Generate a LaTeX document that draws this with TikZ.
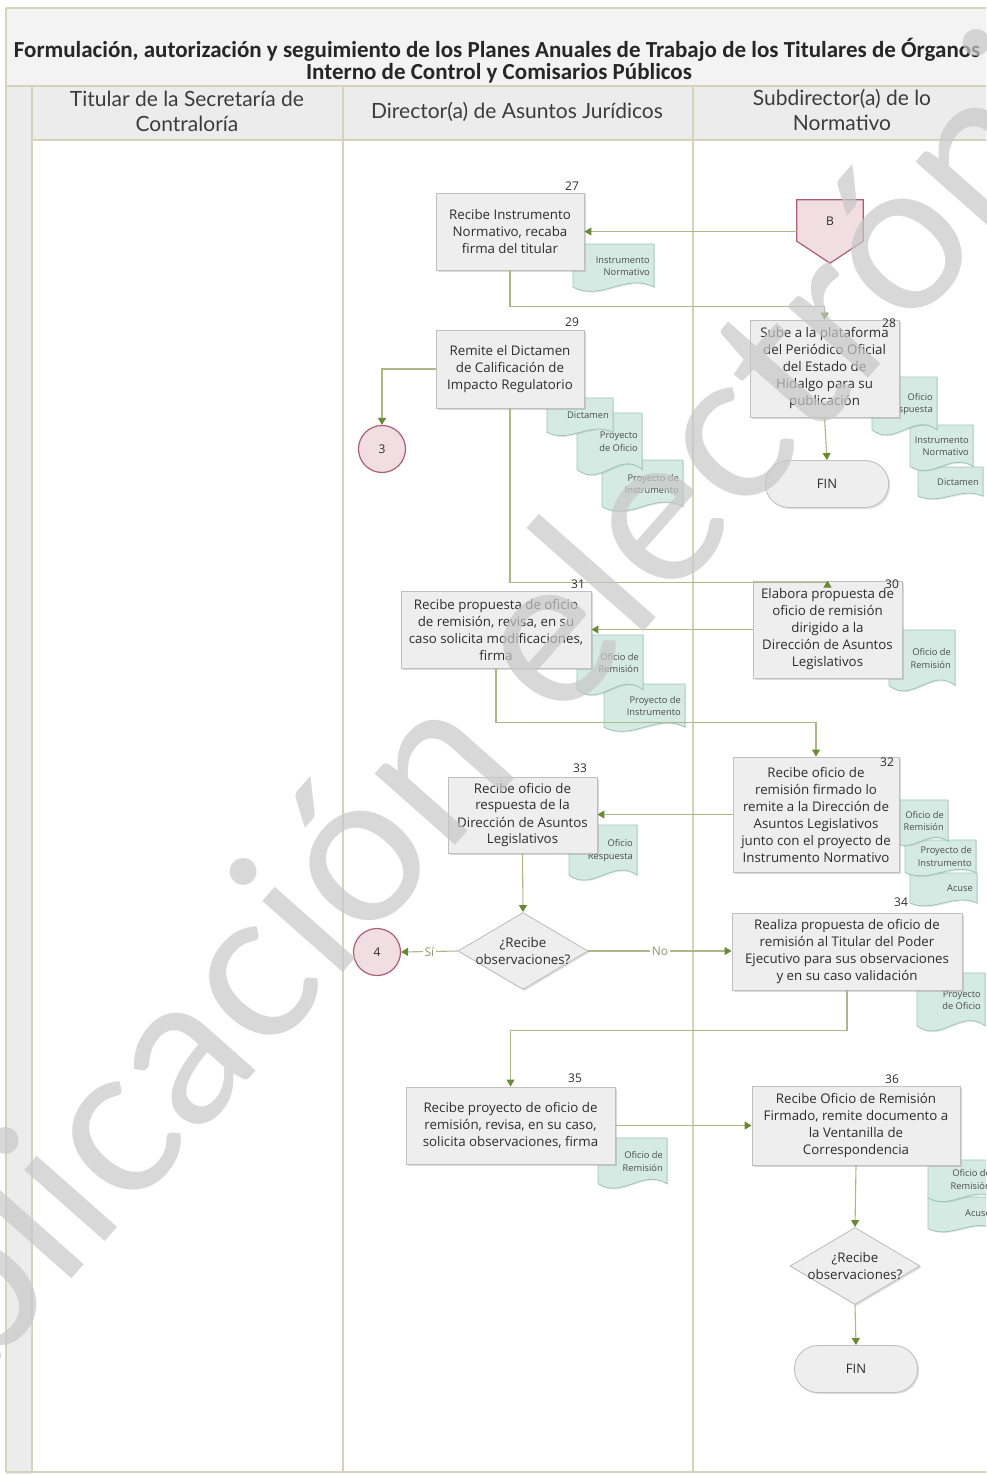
\documentclass[tikz,border=0pt]{standalone}
\usepackage{fontspec}
\setmainfont{Open Sans}
\newfontfamily\ttlfont{Carlito}
\newfontfamily\latofont{Lato}
\usetikzlibrary{arrows.meta,shapes.geometric,shapes.misc,shadows,calc}
\definecolor{lanecol}{RGB}{214,211,186}
\definecolor{hdrfill}{RGB}{236,236,236}
\definecolor{titlefill}{RGB}{243,243,243}
\definecolor{boxfill}{RGB}{238,238,238}
\definecolor{boxdraw}{RGB}{192,192,192}
\definecolor{linec}{RGB}{172,184,138}
\definecolor{tipc}{RGB}{104,138,52}
\definecolor{docfill}{RGB}{214,234,228}
\definecolor{docdraw}{RGB}{155,198,186}
\definecolor{pinkfill}{RGB}{240,222,226}
\definecolor{pinkdraw}{RGB}{170,96,112}
\definecolor{txt}{RGB}{45,45,45}
\definecolor{hdrc}{RGB}{60,60,60}
\definecolor{lblc}{RGB}{140,150,110}
\newcommand{\docshp}[7][0.45]{%
  \path[docsty] (#3,#4) -- (#5,#4) -- (#5,{#6-0.12*(#6-#4)})
    .. controls ({#3+0.65*(#5-#3)},{#6-0.42*(#6-#4)}) and ({#3+0.35*(#5-#3)},{#6+0.18*(#6-#4)}) .. (#3,{#6-0.12*(#6-#4)}) -- cycle;
  \node[doctxt] (#2) at ({#5-4},{#4+#1*(#6-#4)}) {#7};
}
\tikzset{
  lane/.style={draw=lanecol, line width=1.4pt},
  proc/.style={draw=boxdraw, fill=boxfill, line width=0.9pt, align=center, text=txt,
    font=\fontsize{13.3}{17}\selectfont, inner sep=1pt,
    drop shadow={shadow xshift=1.5pt, shadow yshift=-1.5pt, opacity=0.3}},
  num/.style={font=\fontsize{12}{13}\selectfont, text=txt, inner sep=0pt},
  conn/.style={draw=linec, line width=1.1pt, -{Triangle[width=8pt,length=7pt,color=tipc]}},
  docsty/.style={draw=docdraw, fill=docfill, line width=0.8pt,
    drop shadow={shadow xshift=1.2pt, shadow yshift=-1.2pt, opacity=0.2}},
  doctxt/.style={font=\fontsize{9.3}{12.5}\selectfont, text=txt!85, align=right, anchor=east, inner sep=0pt},
  circ/.style={circle, draw=pinkdraw, fill=pinkfill, line width=1.2pt, minimum size=47pt,
    font=\fontsize{12}{13}\selectfont, text=txt, inner sep=0pt},
  dec/.style={diamond, draw=boxdraw, fill=boxfill, line width=0.9pt, minimum width=130pt,
    minimum height=77pt, inner sep=0pt,
    drop shadow={shadow xshift=1.5pt, shadow yshift=-1.5pt, opacity=0.25}},
  dectxt/.style={font=\fontsize{13.3}{17}\selectfont, text=txt, align=center, inner sep=0pt},
  term/.style={rounded rectangle, draw=boxdraw, fill=boxfill, line width=0.9pt,
    minimum width=130pt, minimum height=47pt, font=\fontsize{13}{14}\selectfont, text=txt,
    drop shadow={shadow xshift=1.5pt, shadow yshift=-1.5pt, opacity=0.25}},
  offp/.style={draw=pinkdraw, fill=pinkfill, line width=1.2pt},
  lbl/.style={fill=white, font=\fontsize{12}{13}\selectfont, text=lblc, inner sep=1.5pt},
  hdr/.style={font=\latofont\fontsize{21}{25}\selectfont, text=hdrc, align=center},
  ttl/.style={font=\ttlfont\bfseries\fontsize{23}{26}\selectfont, text=black!85}
}
\begin{document}
\begin{tikzpicture}[x=1pt,y=-1pt]
\useasboundingbox (0,0) rectangle (986,1474);
\clip (0,0) rectangle (986,1474);
% ---- frame and lanes
\fill[titlefill] (6,8) rectangle (995,86);
\fill[hdrfill] (6,86) rectangle (995,140);
\fill[hdrfill] (6,86) rectangle (32,1474);
\draw[lane] (6,8) -- (995,8);
\draw[lane] (6,86) -- (995,86);
\draw[lane] (32,140) -- (995,140);
\draw[lane] (6,8) -- (6,1472);
\draw[lane] (32,86) -- (32,1472);
\draw[lane] (343,86) -- (343,1472);
\draw[lane] (693,86) -- (693,1472);
\draw[lane] (6,1472) -- (995,1472);
% ---- title and headers
\node[ttl] (t1) at (497,50) {Formulación, autorización y seguimiento de los Planes Anuales de Trabajo de los Titulares de Órganos};
\node[ttl] (t2) at (499,73) {Interno de Control y Comisarios Públicos};
\node[hdr] (h1) at (187,111) {Titular de la Secretaría de\\Contraloría};
\node[hdr] (h2) at (517,112) {Director(a) de Asuntos Jurídicos};
\node[hdr] (h3) at (842,110) {Subdirector(a) de lo\\Normativo};
% ---- off-page connector frame
\node[inner sep=0pt, minimum width=66pt, minimum height=42pt] (B) at (830,221) {};
% ---- documents (front document of each stack drawn last)
\docshp{d27}{573}{244}{654}{293}{Instrumento\\Normativo}
\docshp{d28c}{918}{467}{983}{500}{Dictamen}
\docshp{d28b}{910}{425}{973}{472}{Instrumento\\Normativo}
\docshp{d28a}{872}{377}{937}{437}{Oficio\\Respuesta}
\docshp{d29c}{602}{460}{683}{513}{Proyecto de\\Instrumento}
\docshp{d29b}{577}{413}{642}{477}{Proyecto\\de Oficio}
\docshp{d29a}{547}{398}{613}{437}{Dictamen}
\docshp{d30}{889}{630}{955}{693}{Oficio de\\Remisión}
\docshp{d31b}{604}{684}{685}{733}{Proyecto de\\Instrumento}
\docshp{d31a}{577}{635}{643}{697}{Oficio de\\Remisión}
\docshp{d32c}{910}{873}{977}{907}{Acuse}
\docshp{d32b}{905}{840}{976}{877}{Proyecto de\\Instrumento}
\docshp{d32a}{893}{800}{948}{847}{Oficio de\\Remisión}
\docshp{d33}{569}{825}{637}{882}{Oficio\\Respuesta}
\docshp{d34}{917}{973}{985}{1033}{Proyecto\\de Oficio}
\docshp{d35}{598}{1138}{667}{1190}{Oficio de\\Remisión}
\docshp{d36b}{928}{1197}{995}{1233}{Acuse}
\docshp{d36a}{928}{1160}{995}{1203}{Oficio de\\Remisión}
% ---- process boxes
\node[proc, minimum width=148pt, minimum height=77pt] (b27) at (510,231.5) {Recibe Instrumento\\Normativo, recaba\\firma del titular};
\node[proc, minimum width=149pt, minimum height=97pt] (b28) at (824.5,368.5) {Sube a la plataforma\\del Periódico Oficial\\del Estado de\\Hidalgo para su\\publicación};
\node[proc, minimum width=148pt, minimum height=78pt] (b29) at (510,369) {Remite el Dictamen\\de Calificación de\\Impacto Regulatorio};
\node[proc, minimum width=149pt, minimum height=97pt] (b30) at (827.5,629.5) {Elabora propuesta de\\oficio de remisión\\dirigido a la\\Dirección de Asuntos\\Legislativos};
\node[proc, minimum width=190pt, minimum height=77pt] (b31) at (496,629.5) {Recibe propuesta de oficio\\de remisión, revisa, en su\\caso solicita modificaciones,\\firma};
\node[proc, minimum width=166pt, minimum height=115pt] (b32) at (816,814.5) {Recibe oficio de\\remisión firmado lo\\remite a la Dirección de\\Asuntos Legislativos\\junto con el proyecto de\\Instrumento Normativo};
\node[proc, minimum width=149pt, minimum height=76pt] (b33) at (522.5,815) {Recibe oficio de\\respuesta de la\\Dirección de Asuntos\\Legislativos};
\node[proc, minimum width=230pt, minimum height=77pt] (b34) at (847,951.5) {Realiza propuesta de oficio de\\remisión al Titular del Poder\\Ejecutivo para sus observaciones\\y en su caso validación};
\node[proc, minimum width=209pt, minimum height=77pt] (b35) at (510.5,1125.5) {Recibe proyecto de oficio de\\remisión, revisa, en su caso,\\solicita observaciones, firma};
\node[proc, minimum width=208pt, minimum height=79pt] (b36) at (856,1125.5) {Recibe Oficio de Remisión\\Firmado, remite documento a\\la Ventanilla de\\Correspondencia};
% ---- other shapes
\path[offp] (B.north west) -- (B.north east) -- ($(B.south east)+(0,-1)$) -- ($(B.south)+(0,21)$) -- ($(B.south west)+(0,-1)$) -- cycle;
\node[font=\fontsize{12}{13}\selectfont, text=txt] (Bt) at (B.center) {B};
\node[circ] (c3) at (382,449) {3};
\node[circ] (c4) at (377,952) {4};
\node[term] (fin1) at (827,484) {FIN};
\node[term] (fin2) at (856,1369) {FIN};
\node[dec] (dd1) at (523,951) {};
\node[dectxt] (dd1t) at (dd1.center) {¿Recibe\\observaciones?};
\node[dec] (dd2) at (855,1266) {};
\node[dectxt] (dd2t) at (dd2.center) {¿Recibe\\observaciones?};
% ---- connectors
\draw[conn] (B.west |- b27.east) -- (b27.east);
\draw[conn] (b27.south) -- ++(0,36) -| (b28.north);
\draw[conn] (b28.south) -- (fin1.north);
\draw[conn] (b29.west) -| (c3.north);
\draw[conn] (b29.south) -- ++(0,174) -| (b30.north);
\draw[conn] (b30.west) -- (b31.east);
\draw[conn] (b31.south) -- ++(0,54) -| (b32.north);
\draw[conn] (b32.west) -- (b32.west -| b33.east);
\draw[conn] (b33.south) -- (dd1.north);
\draw[conn] (dd1.west) -- node[lbl] (lsi) {Sí} (c4.east);
\draw[conn] (dd1.east) -- node[lbl] (lno) {No} (dd1.east -| b34.west);
\draw[conn] (b34.south) -- ++(0,40) -| (b35.north);
\draw[conn] (b35.east) -- (b36.west);
\draw[conn] (b36.south) -- (dd2.north);
\draw[conn] (dd2.south) -- (fin2.north);
% ---- step numbers
\node[num] (n27) at (572,186) {27};
\node[num] (n28) at (889,323) {28};
\node[num] (n29) at (572,322) {29};
\node[num] (n30) at (892,584) {30};
\node[num] (n31) at (578,584) {31};
\node[num] (n32) at (887,762) {32};
\node[num] (n33) at (580,768) {33};
\node[num] (n34) at (901,902) {34};
\node[num] (n35) at (575,1078) {35};
\node[num] (n36) at (892,1079) {36};
% ---- watermark
\node[rotate=48.5, font=\latofont\fontsize{212}{212}\selectfont, text=black!22, opacity=0.7, inner sep=0pt] (wm) at (470,712) {Publicación electrónica};
\end{tikzpicture}
\end{document}
